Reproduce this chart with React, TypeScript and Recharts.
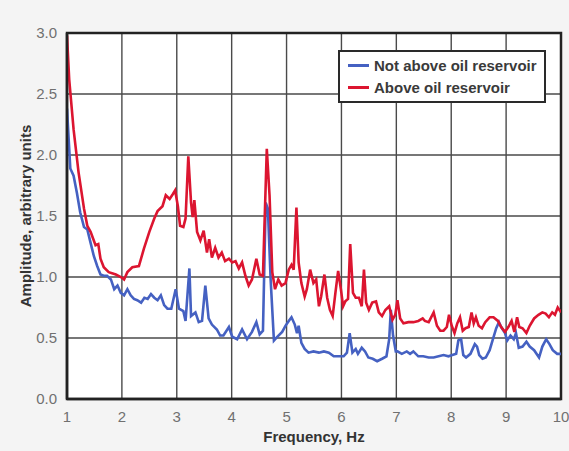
import React from 'react';
import {
  LineChart, Line, XAxis, YAxis, CartesianGrid, Legend, ReferenceArea,
} from 'recharts';

const xTicks = [1, 2, 3, 4, 5, 6, 7, 8, 9, 10];
const yTicks = [0, 0.5, 1, 1.5, 2, 2.5, 3];

const freqRed = [
  1.00, 1.04, 1.12, 1.21, 1.31, 1.37, 1.43, 1.52, 1.57, 1.61, 1.67, 1.76, 1.89, 1.98, 2.04, 2.10, 2.19, 2.31, 2.40, 2.50,
  2.59, 2.65, 2.74, 2.80, 2.87, 2.93, 2.97, 3.02, 3.06, 3.12, 3.16, 3.21, 3.26, 3.29, 3.32, 3.37, 3.43, 3.49, 3.55, 3.59,
  3.64, 3.70, 3.76, 3.82, 3.88, 3.95, 4.01, 4.07, 4.13, 4.19, 4.25, 4.31, 4.37, 4.45, 4.51, 4.57, 4.64, 4.69, 4.74, 4.79,
  4.85, 4.91, 4.98, 5.04, 5.09, 5.13, 5.18, 5.22, 5.27, 5.33, 5.37, 5.43, 5.49, 5.54, 5.59, 5.63, 5.69, 5.74, 5.79, 5.84,
  5.89, 5.94, 5.99, 6.03, 6.07, 6.12, 6.16, 6.21, 6.26, 6.32, 6.37, 6.41, 6.45, 6.50, 6.56, 6.63, 6.68, 6.74, 6.80, 6.87,
  6.93, 6.98, 7.02, 7.07, 7.13, 7.22, 7.31, 7.40, 7.48, 7.52, 7.59, 7.68, 7.74, 7.80, 7.86, 7.92, 7.96, 8.01, 8.06, 8.11,
  8.16, 8.21, 8.26, 8.32, 8.37, 8.41, 8.45, 8.50, 8.56, 8.62, 8.70, 8.77, 8.85, 8.91, 8.98, 9.04, 9.10, 9.15, 9.20, 9.24,
  9.30, 9.37, 9.43, 9.51, 9.59, 9.66, 9.72, 9.78, 9.84, 9.89, 9.94, 10.0,
];
const ampRed = [
  2.98, 2.62, 2.21, 1.86, 1.56, 1.42, 1.37, 1.26, 1.27, 1.15, 1.08, 1.04, 1.02, 1.00, 0.98, 1.04, 1.08, 1.09, 1.23, 1.37,
  1.48, 1.54, 1.58, 1.67, 1.64, 1.68, 1.71, 1.58, 1.42, 1.41, 1.48, 1.99, 1.61, 1.49, 1.63, 1.37, 1.30, 1.38, 1.20, 1.31,
  1.16, 1.24, 1.16, 1.20, 1.13, 1.15, 1.12, 1.13, 1.07, 1.12, 1.01, 0.93, 0.98, 1.15, 1.02, 1.01, 2.05, 1.67, 1.04, 0.90,
  0.98, 0.93, 0.95, 1.06, 1.10, 1.06, 1.57, 1.12, 0.95, 0.84, 0.90, 1.06, 0.95, 0.98, 0.76, 0.84, 1.02, 0.83, 0.73, 0.68,
  0.87, 1.05, 0.90, 0.76, 0.80, 0.82, 1.27, 0.87, 0.83, 0.83, 0.76, 1.06, 0.79, 0.73, 0.79, 0.80, 0.71, 0.68, 0.73, 0.76,
  0.65, 0.69, 0.81, 0.66, 0.62, 0.63, 0.63, 0.64, 0.66, 0.64, 0.63, 0.71, 0.60, 0.56, 0.56, 0.59, 0.69, 0.60, 0.54, 0.62,
  0.67, 0.56, 0.58, 0.59, 0.71, 0.62, 0.67, 0.60, 0.58, 0.63, 0.67, 0.67, 0.64, 0.59, 0.55, 0.59, 0.64, 0.55, 0.67, 0.59,
  0.58, 0.54, 0.60, 0.66, 0.69, 0.71, 0.70, 0.67, 0.71, 0.69, 0.75, 0.71,
];

const freqBlue = [
  1.00, 1.06, 1.12, 1.18, 1.24, 1.31, 1.37, 1.43, 1.49, 1.55, 1.61, 1.67, 1.73, 1.80, 1.86, 1.92, 1.98, 2.04, 2.10, 2.16,
  2.22, 2.28, 2.35, 2.41, 2.47, 2.53, 2.59, 2.65, 2.71, 2.77, 2.83, 2.90, 2.98, 3.04, 3.12, 3.16, 3.23, 3.26, 3.34, 3.40,
  3.46, 3.52, 3.58, 3.64, 3.73, 3.79, 3.85, 3.95, 4.01, 4.10, 4.19, 4.28, 4.37, 4.45, 4.51, 4.57, 4.62, 4.66, 4.71, 4.77,
  4.83, 4.92, 4.98, 5.04, 5.09, 5.15, 5.19, 5.22, 5.27, 5.33, 5.40, 5.49, 5.59, 5.68, 5.77, 5.86, 5.95, 6.04, 6.10, 6.15,
  6.20, 6.26, 6.30, 6.37, 6.43, 6.49, 6.57, 6.65, 6.74, 6.82, 6.87, 6.90, 6.94, 6.99, 7.02, 7.10, 7.19, 7.25, 7.31, 7.40,
  7.49, 7.59, 7.68, 7.77, 7.86, 7.95, 8.02, 8.09, 8.13, 8.18, 8.22, 8.27, 8.35, 8.43, 8.47, 8.51, 8.57, 8.63, 8.70, 8.76,
  8.82, 8.87, 8.91, 8.98, 9.02, 9.08, 9.14, 9.18, 9.23, 9.30, 9.37, 9.43, 9.51, 9.60, 9.66, 9.73, 9.79, 9.85, 9.93, 10.0,
];
const ampBlue = [
  2.38, 1.89, 1.83, 1.69, 1.53, 1.41, 1.39, 1.28, 1.17, 1.09, 1.02, 1.01, 1.01, 0.98, 0.90, 0.93, 0.87, 0.85, 0.90, 0.85,
  0.82, 0.81, 0.79, 0.83, 0.82, 0.86, 0.83, 0.81, 0.85, 0.77, 0.74, 0.74, 0.90, 0.74, 0.72, 0.64, 1.07, 0.68, 0.71, 0.63,
  0.64, 0.93, 0.66, 0.61, 0.57, 0.52, 0.52, 0.59, 0.51, 0.49, 0.57, 0.49, 0.55, 0.63, 0.53, 0.56, 1.61, 1.56, 0.98, 0.48,
  0.51, 0.55, 0.60, 0.64, 0.67, 0.61, 0.54, 0.60, 0.46, 0.41, 0.38, 0.39, 0.38, 0.39, 0.38, 0.35, 0.35, 0.35, 0.38, 0.54,
  0.38, 0.41, 0.37, 0.42, 0.39, 0.34, 0.33, 0.31, 0.33, 0.35, 0.49, 0.73, 0.52, 0.39, 0.39, 0.37, 0.39, 0.37, 0.39, 0.35,
  0.35, 0.34, 0.34, 0.35, 0.36, 0.35, 0.36, 0.37, 0.48, 0.49, 0.36, 0.34, 0.37, 0.45, 0.43, 0.36, 0.33, 0.34, 0.40, 0.49,
  0.58, 0.63, 0.59, 0.54, 0.48, 0.52, 0.49, 0.54, 0.42, 0.43, 0.47, 0.43, 0.40, 0.34, 0.43, 0.49, 0.45, 0.40, 0.37, 0.37,
];

const seriesNames = ['Not above oil reservoir', 'Above oil reservoir'];
const blueColor = '#4561c2';
const redColor = '#dc1530';

const redData = freqRed.map((f, i) => ({ f, a: ampRed[i] }));
const blueData = freqBlue.map((f, i) => ({ f, a: ampBlue[i] }));

const FONT = '"Liberation Sans", Arial, sans-serif';

const LegendBox = () => (
  <div
    style={{
      width: 204,
      height: 49,
      border: '2px solid #2a2a2a',
      background: '#fff',
      fontFamily: FONT,
      fontWeight: 700,
      fontSize: 15,
      color: '#3a3a3a',
      boxSizing: 'content-box',
    }}
  >
    {[
      { name: seriesNames[0], color: blueColor },
      { name: seriesNames[1], color: redColor },
    ].map((it, i) => (
      <div key={i} style={{ display: 'flex', alignItems: 'center', height: 21, marginTop: i === 0 ? 3 : 1 }}>
        <div style={{ width: 21, height: 3, background: it.color, marginLeft: 8, marginRight: 5 }} />
        <span style={{ whiteSpace: 'nowrap' }}>{it.name}</span>
      </div>
    ))}
  </div>
);

export default function App() {
  return (
    <div style={{ position: 'absolute', left: 0, top: 0, width: 569, height: 451, background: '#f4f4f4' }}>
      <LineChart
        width={569}
        height={451}
        margin={{ top: 33, right: 8, bottom: 22, left: 27 }}
      >
        <CartesianGrid stroke="#4a4a4a" strokeWidth={1.4} fill="#ffffff" />
        <XAxis
          type="number"
          dataKey="f"
          domain={[1, 10]}
          ticks={xTicks}
          allowDataOverflow
          tickLine={false}
          axisLine={{ stroke: '#222', strokeWidth: 2.5 }}
          tick={{ fill: '#707070', fontSize: 15, fontFamily: FONT }}
          tickMargin={6}
          height={30}
          label={{ value: 'Frequency, Hz', position: 'insideBottom', offset: -13, fill: '#333', fontSize: 15, fontWeight: 700, fontFamily: FONT }}
        />
        <YAxis
          type="number"
          domain={[0, 3]}
          ticks={yTicks}
          allowDataOverflow
          tickLine={false}
          axisLine={{ stroke: '#222', strokeWidth: 2.5 }}
          tick={{ fill: '#707070', fontSize: 15, fontFamily: FONT }}
          tickFormatter={(v: number) => v.toFixed(1)}
          tickMargin={4}
          width={40}
          label={{ value: 'Amplitude, arbitrary units', angle: -90, position: 'insideLeft', offset: -1, style: { textAnchor: 'middle' }, fill: '#333', fontSize: 15, fontWeight: 700, fontFamily: FONT }}
        />
        <ReferenceArea x1={1} x2={10} y1={0} y2={3} fill="none" stroke="#222" strokeWidth={2.5} ifOverflow="visible" />
        <Line data={blueData} dataKey="a" name={seriesNames[0]} stroke={blueColor} strokeWidth={2.6} dot={false} isAnimationActive={false} />
        <Line data={redData} dataKey="a" name={seriesNames[1]} stroke={redColor} strokeWidth={2.6} dot={false} isAnimationActive={false} />
        <Legend
          layout="horizontal"
          verticalAlign="middle"
          align="center"
          content={() => <LegendBox />}
          wrapperStyle={{ position: 'absolute', left: 338, top: 50, width: 'auto', height: 'auto' }}
        />
      </LineChart>
    </div>
  );
}
